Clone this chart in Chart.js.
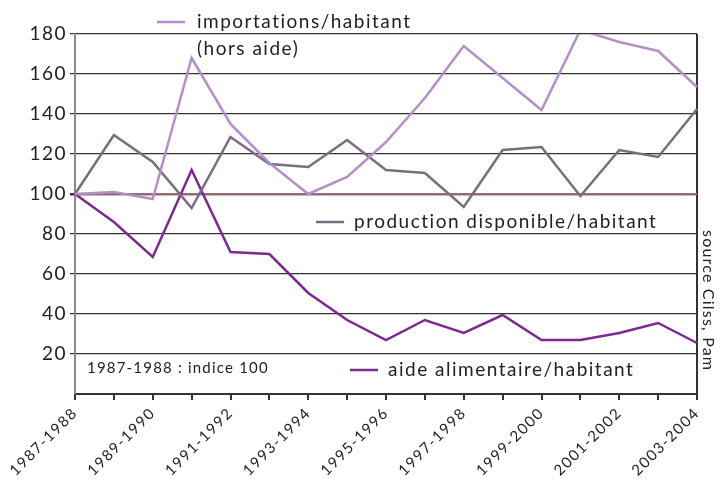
<!DOCTYPE html>
<html>
<head>
    <meta charset="utf-8">
    <title>Importations, production et aide alimentaire par habitant</title>
    <script src="https://cdn.jsdelivr.net/npm/chart.js"></script>
    <style>
        body { margin: 0; background: #fff; }
    </style>
</head>
<body>
<canvas id="indiceChart" width="722" height="487"></canvas>
<script>
    // Campagnes agricoles (abscisses)
    const campagnes = ['1987-1988', '1988-1989', '1989-1990', '1990-1991', '1991-1992', '1992-1993',
        '1993-1994', '1994-1995', '1995-1996', '1996-1997', '1997-1998', '1998-1999', '1999-2000',
        '2000-2001', '2001-2002', '2002-2003', '2003-2004'];

    // Indices (1987-1988 = 100)
    const importations = [100, 101, 97.5, 168, 135, 115.5, 100, 108.5, 126, 148, 174, 158, 142, 182, 176, 171.5, 153.5];
    const production = [100, 129.5, 116, 93, 128.5, 115, 113.5, 127, 112, 110.5, 93.5, 122, 123.5, 99, 122, 118.5, 142.5];
    const aide = [100, 86, 68.5, 112, 71, 70, 50.5, 37, 27, 37, 30.5, 39.5, 27, 27, 30.5, 35.5, 25.5];

    const yTicks = [20, 40, 60, 80, 100, 120, 140, 160, 180];

    const couleurs = {
        importations: '#b68ec8',
        production: '#7c6c80',
        aide: '#7d2a90'
    };

    const police = 'Lato, "DejaVu Sans", sans-serif';

    // espacement des lettres pour se rapprocher de la police d'origine (plus large)
    const espacement = {
        id: 'espacement',
        beforeDraw(chart) {
            chart.ctx.letterSpacing = '1.5px';
        }
    };

    // Légendes et mentions placées dans le graphique
    const annotations = {
        id: 'annotations',
        afterDraw(chart) {
            const { ctx, chartArea } = chart;
            ctx.save();
            ctx.letterSpacing = '1.5px';
            ctx.fillStyle = '#222';
            ctx.textBaseline = 'alphabetic';
            ctx.font = '19px ' + police;

            function echantillon(x, y, couleur) {
                ctx.strokeStyle = couleur;
                ctx.lineWidth = 2.5;
                ctx.beginPath();
                ctx.moveTo(x, y);
                ctx.lineTo(x + 28, y);
                ctx.stroke();
            }

            echantillon(157, 22, couleurs.importations);
            ctx.fillText('importations/habitant', 197, 28);
            ctx.fillText('(hors aide)', 197, 55);

            echantillon(316, 222, couleurs.production);
            ctx.fillText('production disponible/habitant', 354, 228);

            echantillon(350, 370, couleurs.aide);
            ctx.fillText('aide alimentaire/habitant', 388, 376);

            ctx.font = '15px ' + police;
            ctx.letterSpacing = '1.2px';
            ctx.fillText('1987-1988 : indice 100', 87, 373);

            // source, texte vertical à droite
            ctx.font = '16px ' + police;
            ctx.translate(chartArea.right + 6, 230);
            ctx.rotate(Math.PI / 2);
            ctx.fillText('source Cilss, Pam', 0, 0);
            ctx.restore();
        }
    };

    new Chart(document.getElementById('indiceChart'), {
        type: 'line',
        data: {
            labels: campagnes,
            datasets: [
                { label: 'importations/habitant (hors aide)', data: importations, borderColor: couleurs.importations },
                { label: 'production disponible/habitant', data: production, borderColor: couleurs.production },
                { label: 'aide alimentaire/habitant', data: aide, borderColor: couleurs.aide }
            ]
        },
        options: {
            responsive: false,
            animation: false,
            layout: { padding: { top: 34, right: 25, left: 0, bottom: 0 } },
            elements: {
                line: { borderWidth: 2.5, tension: 0, fill: false },
                point: { radius: 0 }
            },
            plugins: {
                legend: { display: false },
                tooltip: { enabled: false }
            },
            scales: {
                x: {
                    offset: false,
                    afterFit: scale => { scale.height = 93; },
                    border: { color: '#333', width: 2 },
                    grid: {
                        color: c => c.index === campagnes.length - 1 ? '#333' : 'transparent',
                        lineWidth: 2,
                        tickColor: '#333',
                        tickLength: 6
                    },
                    ticks: {
                        autoSkip: false,
                        maxRotation: 45,
                        minRotation: 45,
                        padding: 4,
                        color: '#222',
                        font: { family: police, size: 15 },
                        callback: (v, i) => i % 2 === 0 ? campagnes[i] : ''
                    }
                },
                y: {
                    min: 0,
                    max: 180,
                    afterFit: scale => { scale.width = 75; },
                    afterBuildTicks: scale => { scale.ticks = [0].concat(yTicks).map(v => ({ value: v })); },
                    border: { color: '#8a8a8a', width: 2 },
                    grid: {
                        color: c => c.tick.value === 100 ? '#8e6e72' : (c.tick.value === 0 ? 'transparent' : '#333'),
                        lineWidth: c => c.tick.value === 100 ? 2.5 : 1.2,
                        tickColor: c => c.tick.value === 0 ? 'transparent' : '#333',
                        tickLength: 5
                    },
                    ticks: {
                        color: '#222',
                        padding: 3,
                        font: { family: police, size: 19 },
                        callback: v => v === 0 ? '' : v
                    }
                }
            }
        },
        plugins: [espacement, annotations]
    });
</script>
</body>
</html>
